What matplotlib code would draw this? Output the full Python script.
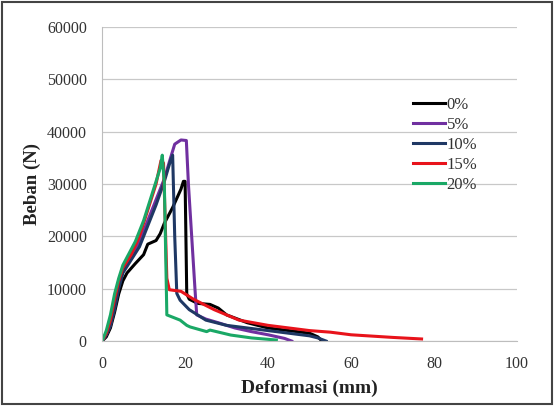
import matplotlib
matplotlib.use('Agg')
import matplotlib.pyplot as plt
from matplotlib.patches import Rectangle

plt.rcParams['font.family'] = ['Liberation Serif', 'DejaVu Serif']

# 0%
x0 = [0, 1, 2, 3, 4, 5, 6, 8, 10, 11, 13, 14, 15, 17, 19, 19.6, 20.0, 20.4, 21, 23, 26, 28, 30, 35, 40, 45, 50, 52, 53]
y0 = [0, 800, 2500, 5500, 9000, 11500, 13000, 14800, 16500, 18500, 19200, 20500, 22500, 25500, 29000, 30500, 30500, 9000, 8000, 7200, 7000, 6300, 5000, 3500, 2500, 2000, 1500, 800, 0]
# 5%
x5 = [0, 1, 2, 3, 4, 5, 7, 9, 11, 13, 15, 16.5, 17.5, 19, 20.3, 20.8, 22.4, 22.8, 25, 28, 32, 36, 40, 44, 45.7]
y5 = [0, 1200, 3000, 6500, 10500, 13500, 16000, 19000, 23000, 27000, 31000, 35000, 37600, 38400, 38300, 30000, 9700, 5000, 4200, 3500, 2500, 1800, 1200, 500, 0]
# 10%
x10 = [0, 1, 2, 3, 4, 5, 7, 9, 11, 13, 15, 16.5, 17, 17.5, 18, 18.8, 21, 25, 30, 35, 40, 45, 50, 52, 54]
y10 = [0, 1200, 3000, 6000, 10000, 13000, 15500, 18000, 22000, 26000, 30500, 34500, 35500, 20000, 9100, 7800, 6000, 4000, 3000, 2500, 2000, 1500, 1000, 600, 0]
# 15%
x15 = [0, 1, 2, 3, 4, 5, 7, 9, 11, 13, 14.2, 14.8, 15.6, 16.2, 19, 22, 27, 33, 40, 50, 55, 60, 70, 77]
y15 = [0, 1500, 4000, 8000, 11500, 14000, 16500, 20000, 25000, 30000, 34500, 34000, 12000, 9800, 9500, 8000, 6000, 4000, 3000, 2000, 1700, 1200, 700, 400]
# 20%
x20 = [0, 1, 2, 3, 4, 5, 6, 8, 10, 12, 14, 14.5, 15.0, 15.6, 18.8, 20.4, 21.2, 25.2, 26, 31, 36, 42]
y20 = [0, 2000, 5000, 9000, 12000, 14500, 16000, 19000, 23000, 28000, 33000, 35500, 30000, 5000, 4000, 3000, 2700, 1800, 2100, 1150, 600, 200]

series = [('0%', x0, y0, '#000000'),
          ('5%', x5, y5, '#7030a0'),
          ('10%', x10, y10, '#1f3864'),
          ('15%', x15, y15, '#e8131b'),
          ('20%', x20, y20, '#1aa866')]

fig = plt.figure(figsize=(5.55, 4.07), dpi=100)
fig.patches.append(Rectangle((0.004, 0.007), 0.99, 0.988, transform=fig.transFigure,
                             fill=False, ec='#444444', lw=1.5))
ax = fig.add_axes([0.184, 0.162, 0.7475, 0.772])

for label, xs, ys, c in series:
    ax.plot(xs, ys, color=c, lw=2.2, label=label)

ax.set_xlim(0, 100)
ax.set_ylim(0, 60000)
ax.set_xticks(range(0, 101, 20))
ax.set_yticks(range(0, 60001, 10000))
ax.grid(axis='y', color='#c8c8c8', lw=0.9)
ax.set_axisbelow(True)
for s in ['top', 'right']:
    ax.spines[s].set_visible(False)
for s in ['left', 'bottom']:
    ax.spines[s].set_color('#bdbdbd')
ax.tick_params(length=0, labelsize=11.5, colors='#333333')
ax.tick_params(axis='y', pad=11)
ax.tick_params(axis='x', pad=11)
ax.set_xlabel('Deformasi (mm)', fontsize=14, fontweight='bold', color='#222222')
ax.set_ylabel('Beban (N)', fontsize=13.5, fontweight='bold', color='#222222')
ax.xaxis.label.set_va('center')
ax.yaxis.label.set_va('center')
ax.xaxis.set_label_coords(0.5, -0.149)
ax.yaxis.set_label_coords(-0.169, 0.5)

leg = ax.legend(loc='upper left', bbox_to_anchor=(0.749, 0.777), frameon=False,
                fontsize=12, handlelength=1.9, handletextpad=0.12,
                labelspacing=0.24, borderaxespad=0, borderpad=0)
for t in leg.get_texts():
    t.set_color('#333333')

fig.savefig('out.png', dpi=100)
